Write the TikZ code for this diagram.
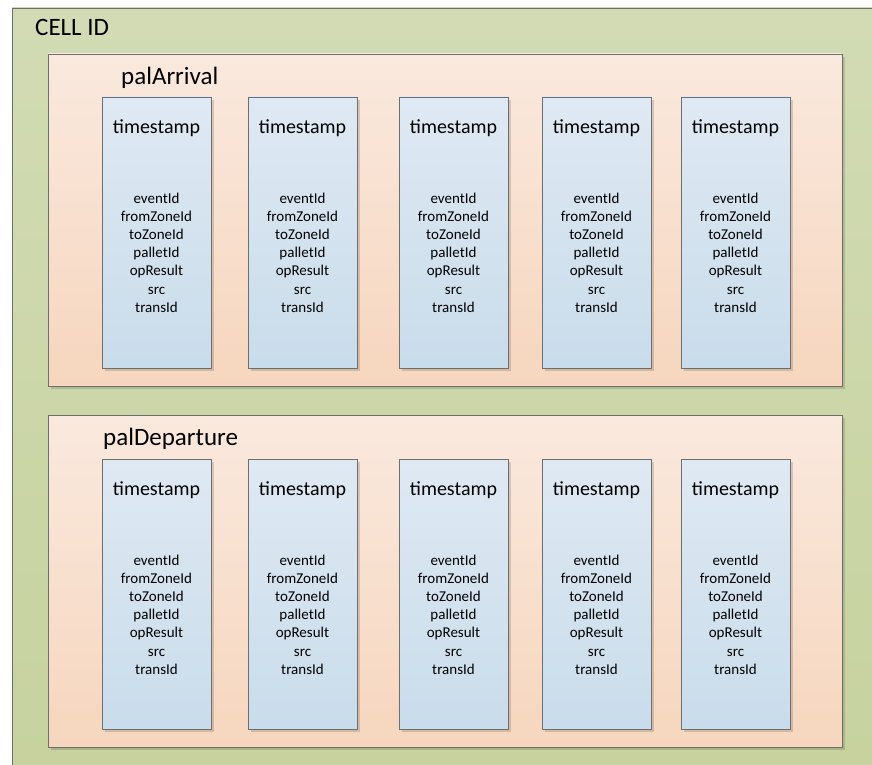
\documentclass[tikz,border=0pt]{standalone}
\usepackage{fontspec}
\setmainfont{Carlito}
\usetikzlibrary{shadows}
\definecolor{cellTop}{RGB}{210,219,180}
\definecolor{cellBot}{RGB}{198,210,158}
\definecolor{grpTop}{RGB}{250,233,222}
\definecolor{grpBot}{RGB}{246,214,190}
\definecolor{recTop}{RGB}{223,233,243}
\definecolor{recBot}{RGB}{201,220,235}
\definecolor{edge}{RGB}{110,110,110}
\tikzset{
  softshadow/.style={drop shadow={shadow xshift=3pt, shadow yshift=-3pt, fill=black, opacity=0.14}},
  cellbox/.style={draw=edge, line width=0.9pt, top color=cellTop, bottom color=cellBot, anchor=north west, inner sep=0pt, outer sep=0pt},
  grpbox/.style={draw=edge, line width=0.9pt, top color=grpTop, bottom color=grpBot, softshadow, anchor=north west, inner sep=0pt, outer sep=0pt, minimum width=794pt, minimum height=332pt},
  recbox/.style={draw=edge, line width=0.9pt, top color=recTop, bottom color=recBot, softshadow, anchor=north west, inner sep=0pt, outer sep=0pt, minimum width=109pt},
  bigtitle/.style={font=\fontsize{25}{30}\selectfont, anchor=base west, inner sep=0pt},
  tstamp/.style={font=\fontsize{20}{24}\selectfont, anchor=base, inner sep=0pt},
  fields/.style={font=\fontsize{15}{18.2}\selectfont, align=center, anchor=center, inner sep=0pt}
}
\begin{document}
\begin{tikzpicture}[x=1pt, y=-1pt]
  \useasboundingbox (0,0) rectangle (872,765);
  \clip (0,0) rectangle (872,765);
  \fill[white] (0,0) rectangle (872,765);

  % outer cell container, running off the right and bottom edges
  \node[cellbox, minimum width=880pt, minimum height=780pt] (cell) at (12,8) {};
  \node[bigtitle] (celltitle) at (35,36) {CELL ID};

  % the two event groups
  \node[grpbox] (arrival) at (48,54) {};
  \node[bigtitle] (arrtitle) at (121,85) {palArrival};
  \node[grpbox] (departure) at (48,415) {};
  \node[bigtitle] (deptitle) at (103,445) {palDeparture};

  % record columns
  \foreach \i/\x in {1/102, 2/248, 3/399, 4/542, 5/681} {
    \foreach \r/\top/\h in {a/97/271, d/459/270} {
      \node[recbox, minimum height=\h pt] (rec\r\i) at (\x,\top) {};
      \node[tstamp] (ts\r\i) at ([yshift=-36pt]rec\r\i.north) {timestamp};
      \node[fields] (fl\r\i) at ([yshift=-155.5pt]rec\r\i.north)
        {eventId\\fromZoneId\\toZoneId\\palletId\\opResult\\src\\transId};
    }
  }
\end{tikzpicture}
\end{document}
